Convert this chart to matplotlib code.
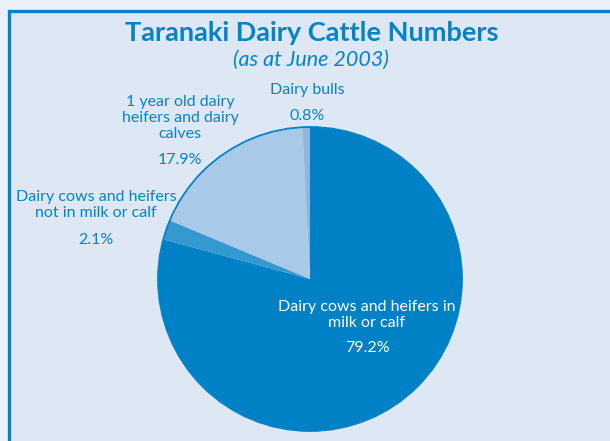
import matplotlib.pyplot as plt
from matplotlib.patches import Rectangle, Circle

# data
labels = ['Dairy cows and heifers in\nmilk or calf',
          'Dairy cows and heifers\nnot in milk or calf',
          '1 year old dairy\nheifers and dairy\ncalves',
          'Dairy bulls']
shares = [79.2, 2.1, 17.9, 0.8]
colors = ['#0081c5', '#3399d0', '#a9c9e8', '#8db7df']

W, H = 610, 441
blue = '#0583c6'
plt.rcParams['font.family'] = ['Lato', 'DejaVu Sans']

fig = plt.figure(figsize=(W / 100, H / 100), dpi=100)
fig.patch.set_facecolor('#eaf1f9')
ax = fig.add_axes([0, 0, 1, 1])

def y(v):
    return H - v

# framed panel
ax.add_patch(Rectangle((8.5, y(460)), 620, 460 - 10.5, facecolor='#dee8f4',
                       edgecolor=blue, lw=2.4, zorder=0))

cx, cy, r = 310, y(279), 152
ax.pie(shares, colors=colors, startangle=90, counterclock=False,
       center=(cx, cy), radius=r, frame=True,
       wedgeprops=dict(linewidth=0))
ax.add_patch(Circle((cx, cy), r, fill=False, edgecolor=blue, lw=1.3, zorder=5))

ax.set_xlim(0, W)
ax.set_ylim(0, H)
ax.set_aspect('equal')
ax.axis('off')

ax.text(312, y(33), 'Taranaki Dairy Cattle Numbers', ha='center', va='center',
        fontsize=19.5, fontweight='bold', color=blue)
ax.text(311, y(60), '(as at June 2003)', ha='center', va='center',
        fontsize=15.5, style='italic', color=blue)

lab_kw = dict(ha='center', va='center', fontsize=11.5, linespacing=1.15)
ax.text(367, y(315), labels[0], color='white', **lab_kw)
ax.text(367, y(348), f'{shares[0]}%', color='white', **lab_kw)
ax.text(96, y(205), labels[1], color=blue, **lab_kw)
ax.text(96, y(240), f'{shares[1]}%', color=blue, **lab_kw)
ax.text(180, y(118), labels[2], color=blue, **lab_kw)
ax.text(180, y(160), f'{shares[2]}%', color=blue, **lab_kw)
ax.text(307, y(90), labels[3], color=blue, **lab_kw)
ax.text(307, y(116), f'{shares[3]}%', color=blue, **lab_kw)

fig.savefig('out.png', dpi=100)
